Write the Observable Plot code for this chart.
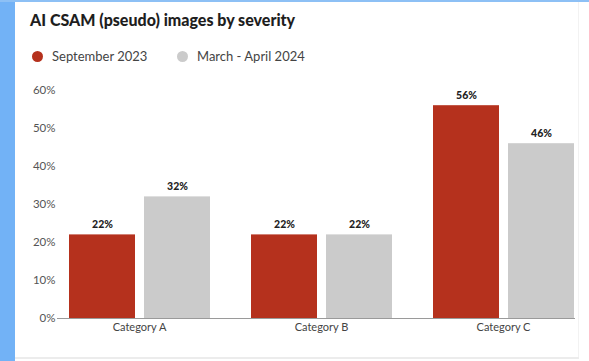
<!DOCTYPE html>
<html>
<head>
<meta charset="utf-8">
<script src="https://cdn.jsdelivr.net/npm/d3@7"></script>
<script src="https://cdn.jsdelivr.net/npm/@observablehq/plot@0.6"></script>
<style>
  html, body { margin: 0; padding: 0; background: #fff; }
  #page { position: relative; width: 589px; height: 361px; overflow: hidden; background: #fff; font-family: Lato, "Open Sans", sans-serif; }
  #leftbar { position: absolute; left: 0; top: 0; width: 15px; height: 361px; background: #72b2f6; }
  #topbar { position: absolute; left: 0; top: 0; width: 589px; height: 2px; background: #8dc0f5; }
  #rightline { position: absolute; left: 578px; top: 2px; width: 1px; height: 356px; background: #f2f2f2; }
  #bottomline { position: absolute; left: 15px; top: 357px; width: 564px; height: 2px; background: #ececec; }
  #title { position: absolute; left: 30px; top: 10px; font-size: 16px; font-weight: 900; color: #1e1e1e; }
  .leg { position: absolute; top: 48px; font-size: 13px; color: #444; display: flex; align-items: center; }
  .dot { width: 11px; height: 11px; border-radius: 50%; margin-right: 9px; }
  #chart { position: absolute; left: 15px; top: 70px; }
</style>
</head>
<body>
<div id="page">
  <div id="leftbar"></div>
  <div id="topbar"></div>
  <div id="rightline"></div>
  <div id="bottomline"></div>
  <div id="title">AI CSAM (pseudo) images by severity</div>
  <div id="legend"></div>
  <div id="chart"></div>
</div>
<script>
const categories = ["Category A", "Category B", "Category C"];
const seriesNames = ["September 2023", "March - April 2024"];
const seriesColors = ["#b5311d", "#cbcbcb"];
const sept2023 = [22, 22, 56];
const marApr2024 = [32, 22, 46];
const yTicks = [0, 10, 20, 30, 40, 50, 60];

const seriesValues = [sept2023, marApr2024];
const data = [];
categories.forEach((c, i) => {
  seriesNames.forEach((s, j) => data.push({category: c, series: s, value: seriesValues[j][i]}));
});

// legend
const legend = document.getElementById("legend");
const legendX = [32, 177];
seriesNames.forEach((s, j) => {
  const el = document.createElement("div");
  el.className = "leg";
  el.style.left = legendX[j] + "px";
  el.innerHTML = `<span class="dot" style="background:${seriesColors[j]}"></span><span>${s}</span>`;
  legend.appendChild(el);
});

const chart = Plot.plot({
  width: 574,
  height: 275,
  marginTop: 20,
  marginBottom: 27,
  marginLeft: 53,
  marginRight: 15,
  style: {background: "transparent", fontFamily: "Lato, 'Open Sans', sans-serif"},
  fx: {domain: categories, paddingInner: 0.222, paddingOuter: 0, label: null},
  x: {domain: seriesNames, paddingInner: 0.12, paddingOuter: 0, axis: null},
  y: {domain: [0, 60], label: null},
  color: {domain: seriesNames, range: seriesColors},
  marks: [
    Plot.axisY({ticks: yTicks, tickSize: 0, tickPadding: 13, tickFormat: d => d + "%", fontSize: 11.5, color: "#555", label: null}),
    Plot.axisFx({anchor: "bottom", tickSize: 0, tickPadding: 5, fontSize: 11, color: "#444", label: null}),
    Plot.barY(data, {fx: "category", x: "series", y: "value", fill: "series"}),
    Plot.text(data, {fx: "category", x: "series", y: "value", text: d => d.value + "%", dy: -10, fontSize: 10.5, fontWeight: 900, fill: "#222"}),
    Plot.ruleY([{c: categories[0]}], {fx: "c", y: () => 0, stroke: "#9a9a9a", strokeWidth: 1.2, insetLeft: -11, insetRight: -21}),
    Plot.ruleY([{c: categories[1]}], {fx: "c", y: () => 0, stroke: "#9a9a9a", strokeWidth: 1.2, insetLeft: -21, insetRight: -21}),
    Plot.ruleY([{c: categories[2]}], {fx: "c", y: () => 0, stroke: "#9a9a9a", strokeWidth: 1.2, insetLeft: -21, insetRight: -1})
  ]
});
document.getElementById("chart").appendChild(chart);
</script>
</body>
</html>
